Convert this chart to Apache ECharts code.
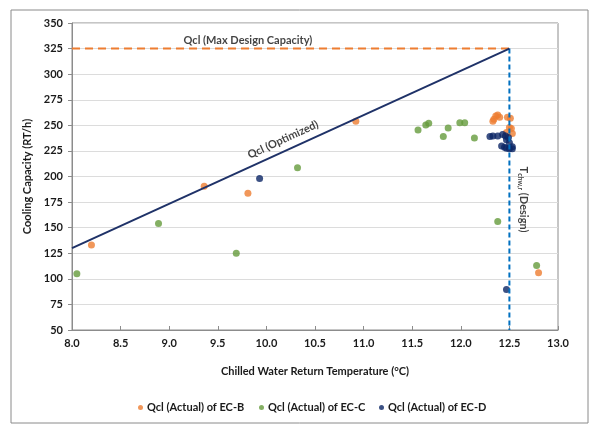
<!DOCTYPE html>
<html>
<head>
<meta charset="utf-8">
<script src="https://cdn.jsdelivr.net/npm/echarts@6/dist/echarts.min.js"></script>
<style>
  html, body { margin: 0; padding: 0; background: #fff; }
  #chart { width: 591px; height: 429px; }
</style>
</head>
<body>
<div id="chart"></div>
<script>
(function(){
  'use strict';

  // actual points [temp, capacity]
  const ecB = [
    [8.20, 133], [9.36, 190.5], [9.81, 183.6], [10.92, 254], [12.80, 106],
    [12.33, 254], [12.34, 256], [12.36, 259], [12.38, 260], [12.40, 258],
    [12.48, 258], [12.51, 257], [12.50, 248], [12.52, 247], [12.47, 243], [12.53, 242]
  ];
  const ecC = [
    [8.05, 105], [8.89, 154], [9.69, 125], [10.32, 208.5], [11.56, 245.4],
    [11.64, 250.3], [11.67, 252], [11.82, 239], [11.87, 247.4], [11.99, 252.6],
    [12.04, 252.6], [12.14, 237.6], [12.38, 156], [12.78, 113]
  ];
  const ecD = [
    [9.93, 198], [12.30, 239], [12.33, 239.5], [12.38, 239.5], [12.43, 241],
    [12.46, 239.5], [12.47, 236], [12.49, 238], [12.50, 233], [12.42, 229.7],
    [12.45, 228.7], [12.47, 227.5], [12.50, 227], [12.53, 227], [12.53, 229],
    [12.47, 89.5]
  ];

  const optimized = [[8.0, 130], [12.5, 325]];
  const maxDesign = [[8.0, 325], [12.5, 325]];
  const designTemp = [[12.5, 325], [12.5, 50]];

  const xTicks = { min: 8, max: 13, step: 0.5 };
  const yTicks = { min: 50, max: 350, step: 25 };

  const names = ['Qcl (Actual) of EC-B', 'Qcl (Actual) of EC-C', 'Qcl (Actual) of EC-D'];
  const colors = ['#ED7D31', '#659B3C', '#0B2665'];

  const font = 'Lato, "Open Sans", sans-serif';
  const txt = '#1a1a1a';

  function textPoint(pos, text, rotate, extra){
    return {
      type: 'scatter', silent: true, symbolSize: 0, z: 5,
      data: [pos],
      label: Object.assign({
        show: true, position: 'inside', formatter: text, rotate: rotate,
        color: '#111', fontFamily: font, fontWeight: 'bold', fontSize: 11
      }, extra || {})
    };
  }

  const chart = echarts.init(document.getElementById('chart'), null, { renderer: 'canvas' });

  chart.setOption({
    animation: false,
    backgroundColor: '#fff',
    graphic: [{
      type: 'rect', shape: { x: 11, y: 10, width: 577, height: 413 },
      style: { fill: 'none', stroke: '#8a8a8a', lineWidth: 1 }, z: -10
    }],
    grid: { left: 72, top: 23, right: 33, bottom: 99, show: true, borderColor: '#8c8c8c', borderWidth: 1 },
    xAxis: {
      type: 'value', min: xTicks.min, max: xTicks.max, interval: xTicks.step,
      name: 'Chilled Water Return Temperature (°C)', nameLocation: 'middle', nameGap: 36,
      nameTextStyle: { color: txt, fontFamily: font, fontWeight: 'bold', fontSize: 11 },
      axisLine: { lineStyle: { color: '#8c8c8c' } },
      axisTick: { show: true, inside: true, length: 4, lineStyle: { color: '#8c8c8c' } },
      axisLabel: { color: txt, fontFamily: font, fontWeight: 'bold', fontSize: 11, margin: 8,
        formatter: (v)=>v.toFixed(1) },
      splitLine: { show: false }
    },
    yAxis: {
      type: 'value', min: yTicks.min, max: yTicks.max, interval: yTicks.step,
      name: 'Cooling Capacity (RT/h)', nameLocation: 'middle', nameGap: 36,
      nameTextStyle: { color: txt, fontFamily: font, fontWeight: 'bold', fontSize: 11 },
      axisLine: { show: true, lineStyle: { color: '#8c8c8c' } },
      axisTick: { show: true, length: 4, lineStyle: { color: '#8c8c8c' } },
      axisLabel: { color: txt, fontFamily: font, fontWeight: 'bold', fontSize: 11, margin: 9 },
      splitLine: { show: true, lineStyle: { color: '#dcdcdc' } }
    },
    legend: names.map((n, i)=>({
      data: [n], left: [133, 254, 374][i], top: 397,
      icon: 'circle', itemWidth: 5, itemHeight: 5, itemGap: 4,
      textStyle: { color: txt, fontFamily: font, fontWeight: 'bold', fontSize: 11, padding: [0, 0, 0, -1] }
    })),
    series: [
      { type: 'line', data: maxDesign, showSymbol: false, silent: true,
        lineStyle: { color: '#ED7D31', width: 2, type: [8, 5] } },
      { type: 'line', data: designTemp, showSymbol: false, silent: true,
        lineStyle: { color: '#0070C0', width: 2, type: [5, 3] } },
      { type: 'line', data: optimized, showSymbol: false, silent: true,
        lineStyle: { color: '#1F3268', width: 2 } },
      { name: names[0], type: 'scatter', data: ecB, symbolSize: 7, itemStyle: { color: colors[0] } },
      { name: names[1], type: 'scatter', data: ecC, symbolSize: 7, itemStyle: { color: colors[1] } },
      { name: names[2], type: 'scatter', data: ecD, symbolSize: 7, itemStyle: { color: colors[2] } },
      textPoint([9.81, 333], 'Qcl (Max Design Capacity)', 0),
      textPoint([10.17, 236], 'Qcl (Optimized)', 24.6),
      textPoint([12.645, 177.5], '{t|T}{s|chw,r}{t| (Design)}', -90, {
        rich: {
          t: { fontFamily: font, fontSize: 11, color: '#111', fontWeight: 'bold' },
          s: { fontFamily: font, fontSize: 7, color: '#111', fontWeight: 'bold', padding: [6, 0, 0, 0] }
        }
      })
    ]
  });
})();
</script>
</body>
</html>
